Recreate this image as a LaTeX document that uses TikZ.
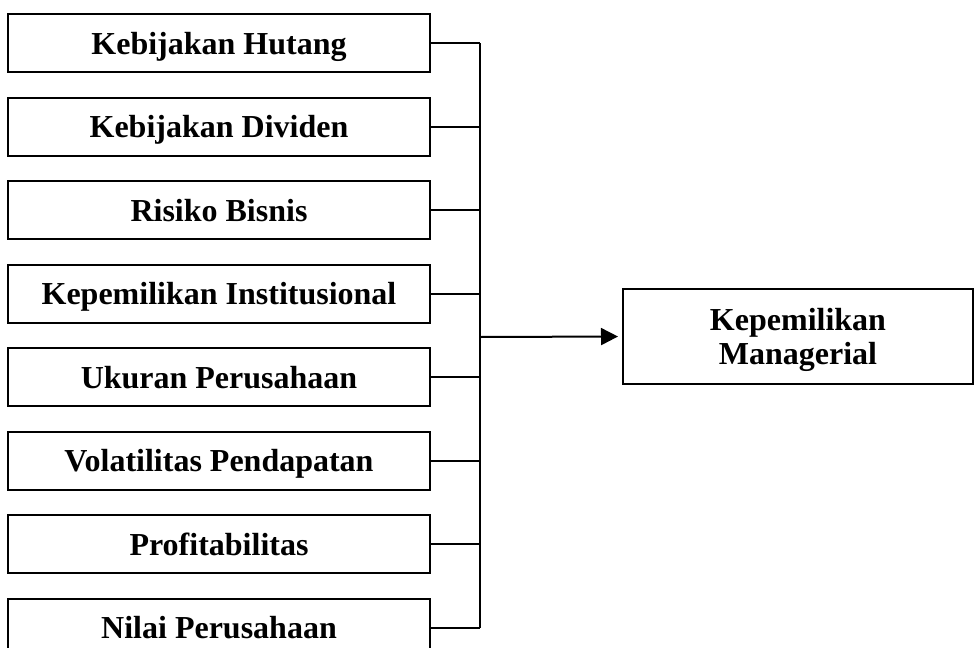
\documentclass[tikz,border=0pt]{standalone}
\usepackage{fontspec}
\setmainfont{Liberation Serif}
\usetikzlibrary{arrows.meta,positioning}
\tikzset{
  kotak/.style={draw,line width=2pt,minimum width=422pt,minimum height=58pt,inner sep=0pt,
                text height=22pt,text depth=0pt,font=\bfseries\fontsize{32}{36}\selectfont},
  hasil/.style={draw,line width=2pt,minimum width=350pt,minimum height=95pt,inner sep=0pt,
                text height=56pt,text depth=0pt,
                align=center,font=\bfseries\fontsize{32}{34}\selectfont},
  garis/.style={line width=2pt},
  panah/.style={line width=2pt,shorten >=4pt,-{Triangle[length=17pt,width=17pt]}},
}
\begin{document}
\begin{tikzpicture}[x=1pt,y=-1pt]
  \useasboundingbox (0,0) rectangle (975,648);
  \node[kotak] (hutang) at (219,43) {Kebijakan Hutang};
  \node[kotak] (dividen) at (219,126.5) {Kebijakan Dividen};
  \node[kotak] (risiko) at (219,210) {Risiko Bisnis};
  \node[kotak] (institusi) at (219,293.5) {Kepemilikan Institusional};
  \node[kotak] (ukuran) at (219,377) {Ukuran Perusahaan};
  \node[kotak] (volatil) at (219,460.5) {Volatilitas Pendapatan};
  \node[kotak] (profit) at (219,544) {Profitabilitas};
  \node[kotak] (nilai) at (219,627.5) {Nilai Perusahaan};
  \node[hasil] (manajer) at (798,336.5) {Kepemilikan\\Managerial};
  % garis pengumpul
  \coordinate (atas) at (480,43);
  \coordinate (bawah) at (480,627.5);
  \coordinate (tengah) at (480,337);
  \draw[garis] (atas) -- (bawah);
  \draw[garis] (hutang.east) -- (hutang.east -| atas);
  \draw[garis] (dividen.east) -- (dividen.east -| atas);
  \draw[garis] (risiko.east) -- (risiko.east -| atas);
  \draw[garis] (institusi.east) -- (institusi.east -| atas);
  \draw[garis] (ukuran.east) -- (ukuran.east -| atas);
  \draw[garis] (volatil.east) -- (volatil.east -| atas);
  \draw[garis] (profit.east) -- (profit.east -| atas);
  \draw[garis] (nilai.east) -- (nilai.east -| atas);
  \draw[panah] (tengah) -- (manajer.west);
\end{tikzpicture}
\end{document}
